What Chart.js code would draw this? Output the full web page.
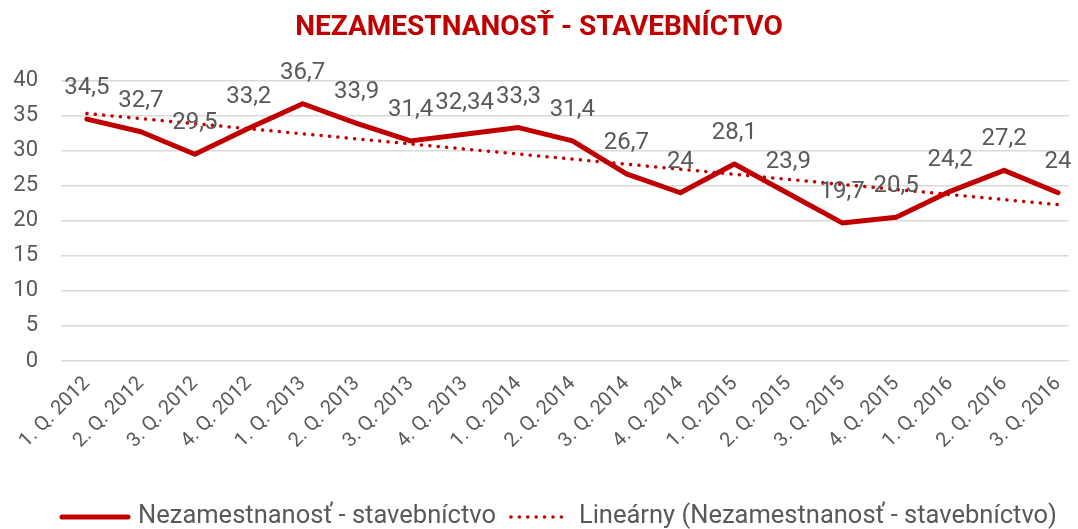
<!DOCTYPE html>
<html>
<head>
<meta charset="utf-8">
<script src="https://cdn.jsdelivr.net/npm/chart.js@4"></script>
<style>
  body { margin: 0; background: #fff; }
  #wrap { width: 1078px; height: 529px; }
</style>
</head>
<body>
<div id="wrap"><canvas id="chart" width="1078" height="529"></canvas></div>
<script>
const quarters = ["1. Q. 2012","2. Q. 2012","3. Q. 2012","4. Q. 2012","1. Q. 2013","2. Q. 2013","3. Q. 2013","4. Q. 2013","1. Q. 2014","2. Q. 2014","3. Q. 2014","4. Q. 2014","1. Q. 2015","2. Q. 2015","3. Q. 2015","4. Q. 2015","1. Q. 2016","2. Q. 2016","3. Q. 2016"];
const unemployment = [34.5, 32.7, 29.5, 33.2, 36.7, 33.9, 31.4, 32.34, 33.3, 31.4, 26.7, 24, 28.1, 23.9, 19.7, 20.5, 24.2, 27.2, 24];
// trend endpoints (first and last quarter)
const trendEnds = [35.3, 22.3];
const yTicks = [0, 5, 10, 15, 20, 25, 30, 35, 40];

const red = "#C00000";
const gray = "#595959";
const font = "Roboto";

// value labels above the main line
const valueLabels = {
  id: "valueLabels",
  afterDatasetsDraw(chart) {
    const ctx = chart.ctx;
    const meta = chart.getDatasetMeta(0);
    ctx.save();
    ctx.font = "24px " + font;
    ctx.fillStyle = gray;
    ctx.textAlign = "center";
    ctx.textBaseline = "bottom";
    meta.data.forEach((pt, i) => {
      const txt = String(unemployment[i]).replace(".", ",");
      ctx.fillText(txt, pt.x, pt.y - 19);
    });
    ctx.restore();
  }
};

// legend drawn by hand so the dotted sample stays dotted
const bottomLegend = {
  id: "bottomLegend",
  afterDraw(chart) {
    const ctx = chart.ctx;
    const items = chart.data.datasets.map((ds, i) => ({ ds, w: i === 0 ? 72 : 64 }));
    ctx.save();
    ctx.font = "25.5px " + font;
    const gap = 7, between = 12;
    let total = 0;
    items.forEach((it, i) => {
      it.tw = ctx.measureText(it.ds.label).width;
      total += it.w + gap + it.tw + (i ? between : 0);
    });
    let x = 558 - total / 2;
    const y = 517;
    items.forEach((it, i) => {
      if (i) x += between;
      ctx.strokeStyle = it.ds.borderColor;
      ctx.lineWidth = it.ds.borderWidth;
      ctx.lineCap = "round";
      ctx.setLineDash(it.ds.borderDash || []);
      ctx.beginPath();
      ctx.moveTo(x + 3, y);
      ctx.lineTo(x + it.w - 3, y);
      ctx.stroke();
      ctx.setLineDash([]);
      x += it.w + gap;
      ctx.fillStyle = gray;
      ctx.textBaseline = "middle";
      ctx.fillText(it.ds.label, x, y);
      x += it.tw;
    });
    ctx.restore();
  }
};

new Chart(document.getElementById("chart"), {
  type: "line",
  data: {
    datasets: [
      {
        label: "Nezamestnanosť - stavebníctvo",
        data: unemployment.map((v, i) => ({ x: i, y: v })),
        borderColor: red,
        backgroundColor: red,
        borderWidth: 5,
        pointRadius: 0,
        tension: 0,
        borderCapStyle: "round",
        borderJoinStyle: "round"
      },
      {
        label: "Lineárny (Nezamestnanosť - stavebníctvo)",
        data: [{ x: 0, y: trendEnds[0] }, { x: quarters.length - 1, y: trendEnds[1] }],
        borderColor: red,
        backgroundColor: red,
        borderWidth: 3.5,
        borderDash: [0.1, 8.3],
        borderCapStyle: "round",
        pointRadius: 0
      }
    ]
  },
  options: {
    responsive: false,
    animation: false,
    layout: { padding: { top: 0, right: 0, bottom: 45, left: 0 } },
    plugins: {
      title: {
        display: true,
        text: "NEZAMESTNANOSŤ - STAVEBNÍCTVO",
        color: red,
        font: { family: font, size: 28, weight: "bold" },
        padding: { top: 11, bottom: 36 }
      },
      legend: { display: false },
      tooltip: { enabled: false }
    },
    scales: {
      x: {
        type: "linear",
        min: -0.48,
        max: 18.2,
        afterBuildTicks: s => { s.ticks = quarters.map((q, i) => ({ value: i })); },
        afterFit: s => { s.height = 123; },
        ticks: {
          color: gray,
          font: { family: font, size: 20 },
          minRotation: 45,
          maxRotation: 45,
          autoSkip: false,
          callback: v => quarters[v]
        },
        grid: { display: false },
        border: { display: false }
      },
      y: {
        min: 0,
        max: 40,
        afterBuildTicks: s => { s.ticks = yTicks.map(v => ({ value: v })); },
        afterFit: s => { s.width = 61; },
        ticks: {
          color: gray,
          font: { family: font, size: 22 },
          padding: 23
        },
        grid: { color: "#D9D9D9", lineWidth: 1.5, drawTicks: false },
        border: { display: false }
      }
    }
  },
  plugins: [valueLabels, bottomLegend]
});
</script>
</body>
</html>
